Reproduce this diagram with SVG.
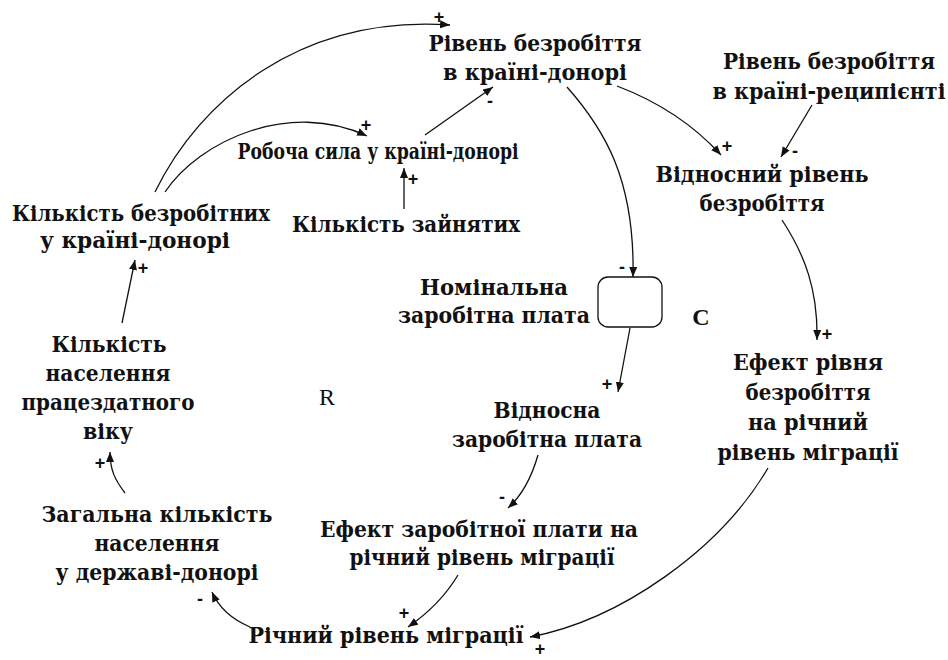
<svg xmlns="http://www.w3.org/2000/svg" width="948" height="660" viewBox="0 0 948 660">
<style>
.t{font-family:"DejaVu Serif","Liberation Serif",serif;font-weight:bold;font-size:22px;fill:#111;text-anchor:middle}
.l{font-family:"Liberation Serif","Times New Roman",serif;font-size:24px;fill:#111;text-anchor:middle}
.b{font-family:"Liberation Serif","Times New Roman",serif;font-weight:bold;font-size:24px;fill:#111;text-anchor:middle}
.s{font-family:"Liberation Sans",Arial,sans-serif;font-weight:bold;font-size:18px;fill:#111;text-anchor:middle}
.c{fill:none;stroke:#111;stroke-width:1.3;marker-end:url(#ah)}
</style>
<defs>
<marker id="ah" markerWidth="11" markerHeight="9" refX="10" refY="4" orient="auto" markerUnits="userSpaceOnUse">
<path d="M0,0 L10,4 L0,8 z" fill="#111"/>
</marker>
</defs>
<rect width="948" height="660" fill="#fff"/>
<g id="connectors">
<path class="c" d="M155,192 C200,100 300,15 450,25"/>
<path class="c" d="M165,192 C200,140 290,100 367,136"/>
<path class="c" d="M425,135 L493,87"/>
<path class="c" d="M404,209 L404,168"/>
<path class="c" d="M567,87 C605,130 635,180 633,277"/>
<path class="c" d="M617,86 Q680,110 721,155"/>
<path class="c" d="M812,105 L781,157"/>
<path class="c" d="M782,220 C805,255 818,290 817,340"/>
<path class="c" d="M630,328 L618,392"/>
<path class="c" d="M538,455 Q528,490 508,508"/>
<path class="c" d="M458,575 Q440,605 408,627"/>
<path class="c" d="M768,468 C720,550 620,620 530,637"/>
<path class="c" d="M250,627 Q222,615 212,592"/>
<path class="c" d="M125,493 C115,480 110,470 110,452"/>
<path class="c" d="M122,323 L135,260"/>
<text class="s" x="439" y="23">+</text>
<text class="s" x="366" y="131">+</text>
<text class="s" x="490" y="107">-</text>
<text class="s" x="413" y="185">+</text>
<text class="s" x="622" y="273">-</text>
<text class="s" x="727" y="152">+</text>
<text class="s" x="795" y="157">-</text>
<text class="s" x="827" y="340">+</text>
<text class="s" x="607" y="390">+</text>
<text class="s" x="502" y="503">-</text>
<text class="s" x="404" y="619">+</text>
<text class="s" x="540" y="655">+</text>
<text class="s" x="200" y="605">-</text>
<text class="s" x="100" y="469">+</text>
<text class="s" x="143" y="274">+</text>
</g>
<g id="n1"><text class="t" x="535" y="51" textLength="213" lengthAdjust="spacingAndGlyphs">Рівень безробіття</text><text class="t" x="535" y="80" textLength="184" lengthAdjust="spacingAndGlyphs">в країні-донорі</text></g>
<g id="n2"><text class="t" x="829" y="69" textLength="212" lengthAdjust="spacingAndGlyphs">Рівень безробіття</text><text class="t" x="829" y="99" textLength="233" lengthAdjust="spacingAndGlyphs">в країні-реципієнті</text></g>
<g id="n3"><text class="t" x="762" y="182" textLength="213" lengthAdjust="spacingAndGlyphs">Відносний рівень</text><text class="t" x="762" y="211" textLength="125" lengthAdjust="spacingAndGlyphs">безробіття</text></g>
<g id="n4"><text class="t" x="378" y="159" textLength="281" lengthAdjust="spacingAndGlyphs">Робоча сила у країні-донорі</text></g>
<g id="n5"><text class="t" x="406" y="232" textLength="228" lengthAdjust="spacingAndGlyphs">Кількість зайнятих</text></g>
<g id="n6"><text class="t" x="141" y="221" textLength="258" lengthAdjust="spacingAndGlyphs">Кількість безробітних</text><text class="t" x="135" y="248" textLength="190" lengthAdjust="spacingAndGlyphs">у країні-донорі</text></g>
<g id="n7"><text class="t" x="494" y="295" textLength="148" lengthAdjust="spacingAndGlyphs">Номінальна</text><text class="t" x="494" y="323" textLength="192" lengthAdjust="spacingAndGlyphs">заробітна плата</text><rect x="598" y="277" width="64" height="50" rx="10" fill="#fff" stroke="#111" stroke-width="1.3"/></g>
<g id="n8"><text class="b" x="701" y="325">C</text></g>
<g id="n9"><text class="t" x="808" y="370" textLength="150" lengthAdjust="spacingAndGlyphs">Ефект рівня</text><text class="t" x="808" y="400" textLength="125" lengthAdjust="spacingAndGlyphs">безробіття</text><text class="t" x="808" y="430" textLength="120" lengthAdjust="spacingAndGlyphs">на річний</text><text class="t" x="808" y="460" textLength="181" lengthAdjust="spacingAndGlyphs">рівень міграції</text></g>
<g id="n10"><text class="l" x="327" y="405">R</text></g>
<g id="n11"><text class="t" x="547" y="418" textLength="107" lengthAdjust="spacingAndGlyphs">Відносна</text><text class="t" x="547" y="447" textLength="190" lengthAdjust="spacingAndGlyphs">заробітна плата</text></g>
<g id="n12"><text class="t" x="479" y="537" textLength="318" lengthAdjust="spacingAndGlyphs">Ефект заробітної плати на</text><text class="t" x="482" y="565" textLength="265" lengthAdjust="spacingAndGlyphs">річний рівень міграції</text></g>
<g id="n13"><text class="t" x="386" y="643" textLength="275" lengthAdjust="spacingAndGlyphs">Річний рівень міграції</text></g>
<g id="n14"><text class="t" x="157" y="522" textLength="231" lengthAdjust="spacingAndGlyphs">Загальна кількість</text><text class="t" x="157" y="551" textLength="125" lengthAdjust="spacingAndGlyphs">населення</text><text class="t" x="157" y="580" textLength="203" lengthAdjust="spacingAndGlyphs">у державі-донорі</text></g>
<g id="n15"><text class="t" x="109" y="352" textLength="115" lengthAdjust="spacingAndGlyphs">Кількість</text><text class="t" x="108" y="381" textLength="125" lengthAdjust="spacingAndGlyphs">населення</text><text class="t" x="108" y="410" textLength="173" lengthAdjust="spacingAndGlyphs">працездатного</text><text class="t" x="108" y="439" textLength="50" lengthAdjust="spacingAndGlyphs">віку</text></g>
</svg>
